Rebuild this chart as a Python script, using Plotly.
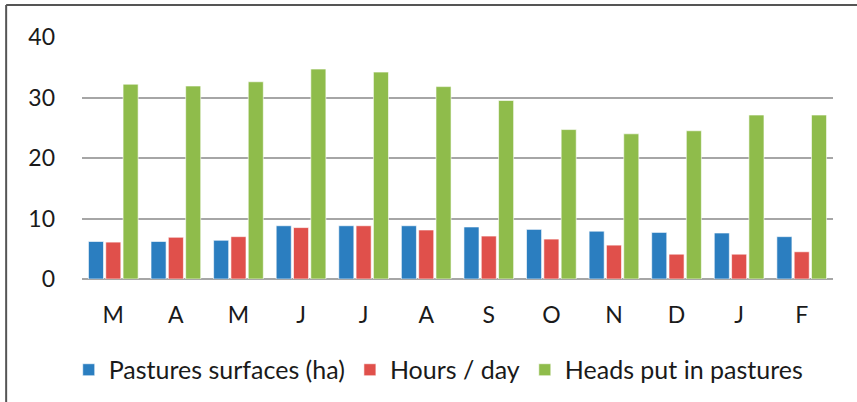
import plotly.graph_objects as go

months = ["M", "A", "M", "J", "J", "A", "S", "O", "N", "D", "J", "F"]
pastures = [6.2, 6.2, 6.4, 8.8, 8.8, 8.8, 8.6, 8.2, 7.9, 7.7, 7.6, 7.0]
hours = [6.1, 6.9, 7.0, 8.5, 8.8, 8.1, 7.1, 6.6, 5.6, 4.1, 4.1, 4.5]
heads = [32.2, 31.9, 32.6, 34.7, 34.2, 31.8, 29.5, 24.7, 24.0, 24.5, 27.1, 27.1]
yticks = [0, 10, 20, 30, 40]

x = list(range(len(months)))
font = "Lato, 'Open Sans', sans-serif"

fig = go.Figure()
for name, vals, col in [
    ("Pastures surfaces (ha)", pastures, "#2b7ec0"),
    ("Hours / day", hours, "#e0504b"),
    ("Heads put in pastures", heads, "#8fbc4b"),
]:
    fig.add_bar(x=x, y=vals, name=name, marker=dict(color=col, line=dict(color="rgba(255,255,255,0.6)", width=1)))

frame = dict(color="#555555", width=2)
fig.update_layout(
    width=857, height=402,
    margin=dict(l=82, r=24, t=37, b=123, autoexpand=False),
    plot_bgcolor="white", paper_bgcolor="white",
    barmode="group", bargap=0.17, bargroupgap=0.13,
    font=dict(family=font, size=23, color="#1a1a1a"),
    showlegend=True,
    legend=dict(orientation="h", x=0.475, xanchor="center", y=-0.376, yanchor="middle",
                font=dict(size=25), itemwidth=30, traceorder="normal"),
    shapes=[
        dict(type="line", xref="paper", yref="paper", x0=-0.101, x1=1.04, y0=1.132, y1=1.132, line=frame),
        dict(type="line", xref="paper", yref="paper", x0=-0.101, x1=-0.101, y0=1.132, y1=-0.7, line=frame),
    ],
)
fig.update_xaxes(tickvals=x, ticktext=months, range=[-0.5, 11.5], showgrid=False,
                 showline=False, zeroline=False, tickfont=dict(size=23), ticklabelstandoff=20)
fig.update_yaxes(range=[0, 40], tickvals=yticks, showgrid=True, gridcolor="#a6a6a6", gridwidth=2,
                 zeroline=True, zerolinecolor="#a6a6a6", zerolinewidth=2, showline=False,
                 tickfont=dict(size=23), ticklabelstandoff=26)

fig.write_html("out.html", config={"displayModeBar": False},
               post_script="document.body.style.margin='0px';")
